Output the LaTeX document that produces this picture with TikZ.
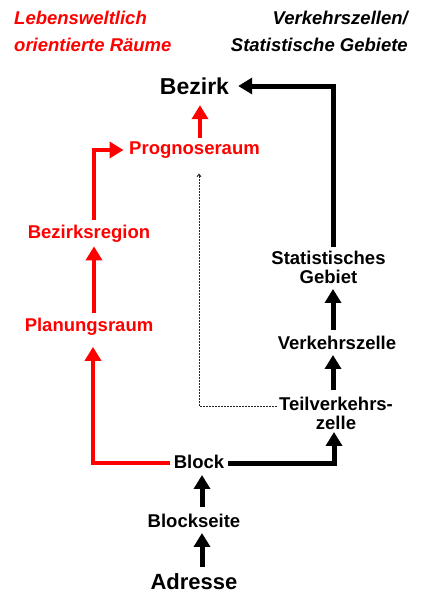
\documentclass[tikz,border=0pt]{standalone}
\usepackage{fontspec}
\setmainfont{Liberation Sans}
\usetikzlibrary{arrows.meta}
\definecolor{rred}{RGB}{255,0,0}
\tikzset{
  lbl/.style={inner sep=0pt,font=\bfseries\fontsize{18.5}{19}\selectfont},
  hdr/.style={inner sep=0pt,font=\bfseries\itshape\fontsize{18.5}{19}\selectfont},
  redlbl/.style={lbl,text=rred},
  rarr/.style={draw=rred,line width=4.6pt,-{Triangle[width=16pt,length=14pt]}},
  barr/.style={draw=black,line width=5pt,-{Triangle[width=16pt,length=14pt]}},
  dotln/.style={draw=black!85,line width=0.7pt,dash pattern=on 1.5pt off 1.5pt,-{Straight Barb[length=2.5pt,width=4pt,line width=0.9pt]}}
}
\begin{document}
\begin{tikzpicture}[x=1pt,y=-1pt]
\useasboundingbox (0,0) rectangle (423,594);
% headers
\node[hdr,text=rred,anchor=west] (lw1) at (14,18) {Lebensweltlich};
\node[hdr,text=rred,anchor=west] (lw2) at (14,45) {orientierte Räume};
\node[hdr,anchor=east] (vz1) at (408,18) {Verkehrszellen/};
\node[hdr,anchor=east] (vz2) at (408,45) {Statistische Gebiete};
% nodes
\node[lbl,font=\bfseries\fontsize{23}{24}\selectfont] (bezirk) at (194.5,86) {Bezirk};
\node[redlbl] (prog) at (194.5,150) {Prognoseraum};
\node[redlbl] (bzr) at (89,234) {Bezirksregion};
\node[redlbl] (plan) at (89,327) {Planungsraum};
\node[lbl] (block) at (199,462) {Block};
\node[lbl] (bseite) at (194,521) {Blockseite};
\node[lbl,font=\bfseries\fontsize{22}{23}\selectfont] (adr) at (194,582) {Adresse};
\node[lbl,align=center] (stat) at (328.5,267.5) {Statistisches\\Gebiet};
\node[lbl] (vzelle) at (337,343) {Verkehrszelle};
\node[lbl,align=center] (tvz) at (336,413.5) {Teilverkehrs-\\zelle};
% red connectors
\draw[rarr,shorten <=3pt,shorten >=10.5pt] ([xshift=5.5pt]prog.north) -- ([xshift=5.5pt]prog.north |- bezirk.south);
\draw[rarr,shorten <=5pt,shorten >=5.5pt] ([xshift=5pt]bzr.north) |- (prog.west);
\draw[rarr,shorten <=5pt,shorten >=3.5pt] ([xshift=5pt]plan.north) -- ([xshift=5pt]bzr.south);
\draw[rarr,shorten <=4pt,shorten >=11pt] ([yshift=-1pt]block.west) -| ([xshift=4pt]plan.south);
% black connectors
\draw[barr,shorten <=4pt,shorten >=2pt] ([yshift=-1pt]block.east) -| ([xshift=-2pt]tvz.south);
\draw[barr,shorten <=7pt,shorten >=5pt] ([xshift=-3pt]tvz.north) -- ([xshift=-4pt]vzelle.south);
\draw[barr,shorten <=6pt,shorten >=5pt] ([xshift=-4pt]vzelle.north) -- ([xshift=4.5pt]stat.south);
\draw[barr,shorten <=4pt,shorten >=9pt] ([xshift=4.5pt]stat.north) |- (bezirk.east);
\draw[barr,shorten <=7pt,shorten >=6pt] ([xshift=8pt]bseite.north) -- ([xshift=3pt]block.south);
\draw[barr,shorten <=7pt,shorten >=5pt] ([xshift=8pt]adr.north) -- ([xshift=8pt]bseite.south);
% dotted
\draw[dotln,shorten <=2pt,shorten >=15pt] ([yshift=7.5pt]tvz.west) -| ([xshift=4.5pt]prog.south);
\end{tikzpicture}
\end{document}
